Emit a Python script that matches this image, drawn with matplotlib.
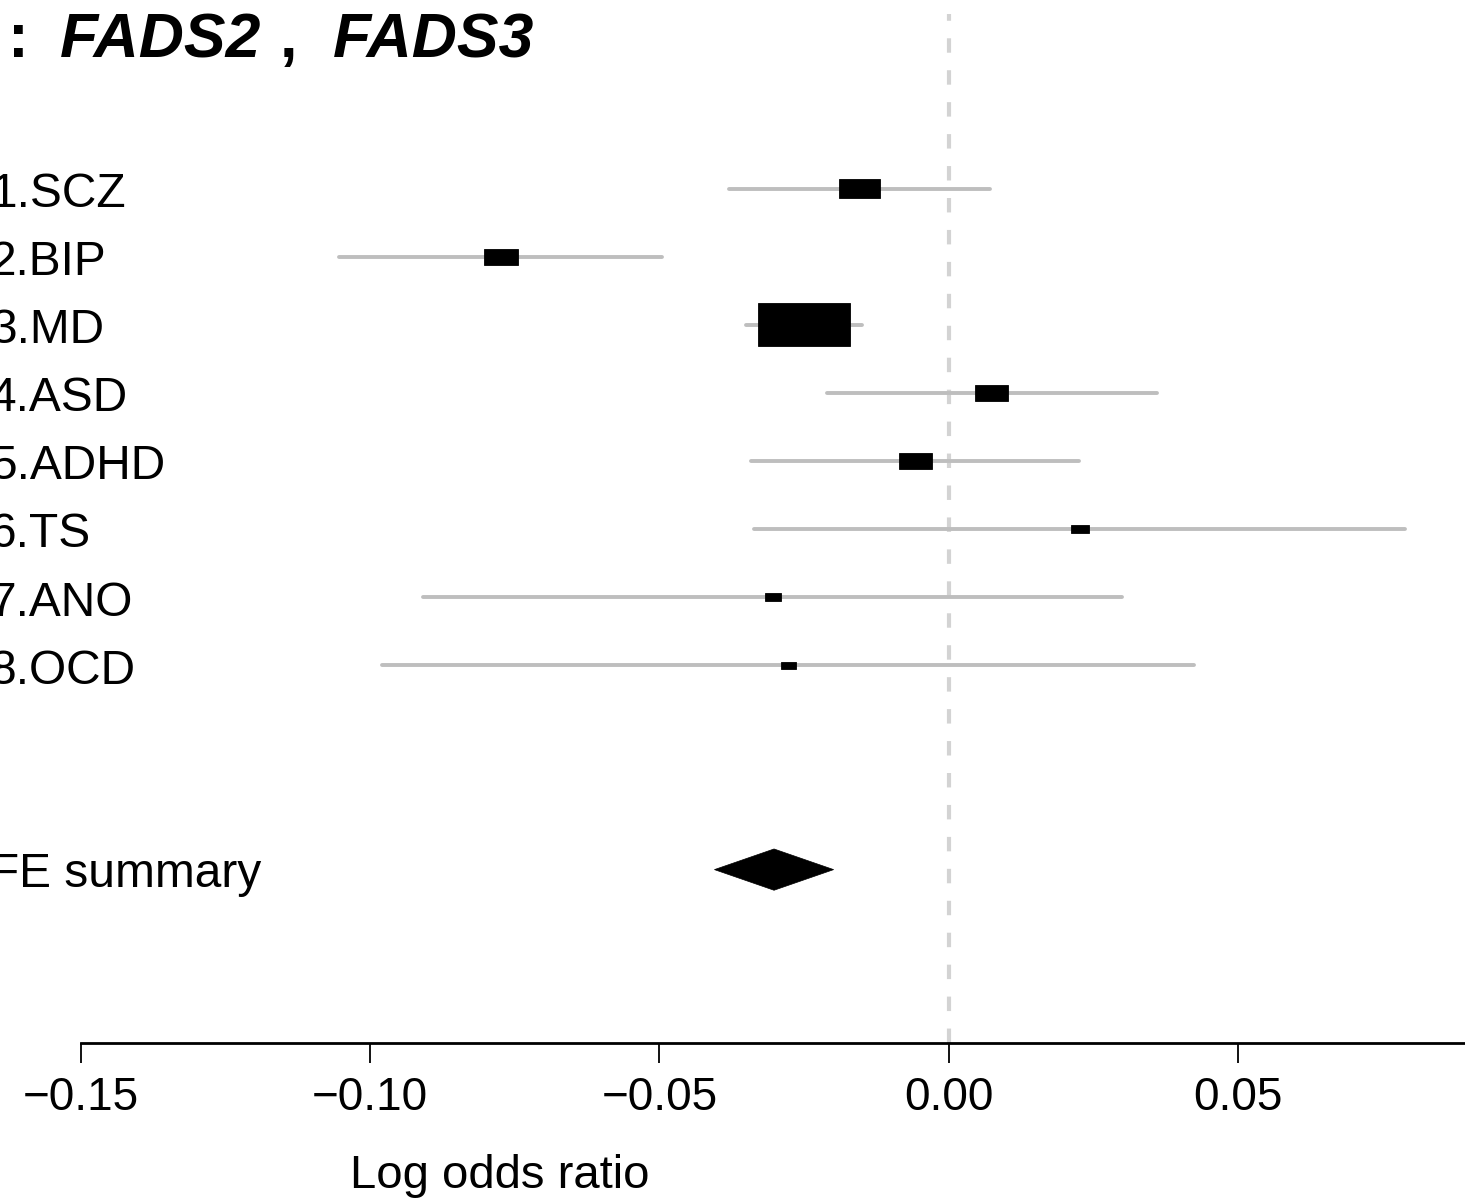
import matplotlib
matplotlib.use('Agg')
import matplotlib.pyplot as plt
from matplotlib.patches import Rectangle, Polygon
import numpy as np

plt.rcParams['font.family'] = ['Liberation Sans', 'DejaVu Sans']
plt.rcParams['lines.scale_dashes'] = False

# ---- data ----
labels = ['1.SCZ', '2.BIP', '3.MD', '4.ASD', '5.ADHD', '6.TS', '7.ANO', '8.OCD']
est = [-0.0154, -0.0774, -0.0251, 0.0074, -0.0058, 0.0227, -0.0304, -0.0277]
lower = [-0.0379, -0.1054, -0.0351, -0.0211, -0.0342, -0.0336, -0.0908, -0.0979]
upper = [0.0071, -0.0495, -0.0150, 0.0360, 0.0225, 0.0789, 0.0300, 0.0424]
box_size = [0.45, 0.37, 1.0, 0.36, 0.36, 0.20, 0.18, 0.16]
summary_label = 'FE summary'
summary_est = -0.0302
summary_lower = -0.0405
summary_upper = -0.0199
xticks = [-0.15, -0.10, -0.05, 0.00, 0.05]
xtick_labels = ['\u22120.15', '\u22120.10', '\u22120.05', '0.00', '0.05']
xlabel = 'Log odds ratio'

# ---- layout ----
W, H = 1465, 1198
fig = plt.figure(figsize=(W / 100, H / 100), dpi=100)
ax = fig.add_axes([0, (H - 1043) / H, 1, 1043 / H])
xmin, xmax = -0.164, 0.08924
ax.set_xlim(xmin, xmax)
ax.set_ylim(13.546, -1.7695)

rows = np.arange(1, len(labels) + 1)
summary_row = len(labels) + 3

# reference line
ax.axvline(0, 0, 0.9866, color='#d3d3d3', lw=3.0,
           linestyle=(0, (10.4, 12.6)), zorder=1)

# confidence intervals
ax.hlines(rows, lower, upper, color='#bebebe', lw=2.8,
          capstyle='round', zorder=2)

# boxes
max_w = 0.0159
max_h = 0.627
for r, e, s in zip(rows, est, box_size):
    w = s * max_w
    h = s * max_h
    ax.add_patch(Rectangle((e - w / 2, r - h / 2), w, h,
                           facecolor='black', edgecolor='black', lw=0.6,
                           zorder=3))

# summary diamond
dh = 0.303
ax.add_patch(Polygon([(summary_lower, summary_row),
                      (summary_est, summary_row - dh),
                      (summary_upper, summary_row),
                      (summary_est, summary_row + dh)],
                     closed=True, facecolor='black', edgecolor='black',
                     lw=0.5, zorder=3))

# row labels
lab_x = xmin - 10 / 5785
for r, lab in zip(rows, labels):
    ax.text(lab_x, r + 0.27, lab, fontsize=34.5, ha='left', va='baseline',
            clip_on=False)
ax.text(lab_x, summary_row + 0.25, summary_label, fontsize=34.5, ha='left',
        va='baseline', clip_on=False)

# axes styling
for s in ['top', 'right', 'left']:
    ax.spines[s].set_visible(False)
ax.spines['bottom'].set_bounds(-0.15, xmax)
ax.spines['bottom'].set_linewidth(2.0)
ax.set_yticks([])
ax.set_xticks(xticks)
ax.set_xticklabels(xtick_labels)
ax.tick_params(axis='x', length=14.4, width=1.3, pad=9, labelsize=33)

fig.text(500 / W, (H - 1188) / H, xlabel, ha='center', va='baseline',
         fontsize=34)

# title pieces
ty = (H - 57) / H
fig.text(8 / W, ty, ':', fontsize=45, fontweight='bold', ha='left',
         va='baseline')
fig.text(60 / W, ty, 'FADS2', fontsize=45, fontweight='bold',
         style='italic', ha='left', va='baseline')
fig.text(280 / W, ty, ',', fontsize=45, fontweight='bold', ha='left',
         va='baseline')
fig.text(333 / W, ty, 'FADS3', fontsize=45, fontweight='bold',
         style='italic', ha='left', va='baseline')

fig.savefig('out.png', dpi=100)
